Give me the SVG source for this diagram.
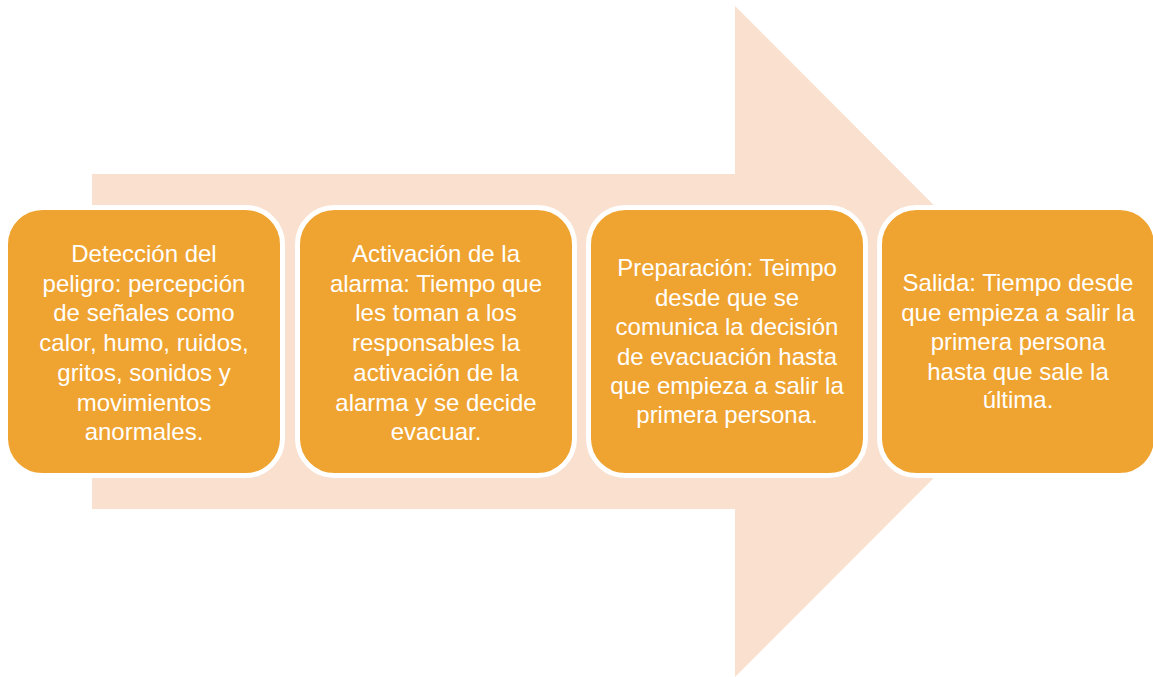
<svg xmlns="http://www.w3.org/2000/svg" width="1153" height="677" viewBox="0 0 1153 677">
<style>
.box{fill:#EFA431;stroke:#FFFFFF;stroke-width:5}
.t{font-family:"Liberation Sans",Arial,sans-serif;font-size:24px;fill:#FFFFFF;text-anchor:middle}
</style>
<rect width="1153" height="677" fill="#FFFFFF"/>
<g id="arrow">
<polygon points="92,174 735,174 735,6 1070,341.5 735,677 735,509 92,509" fill="#F9E0CF"/>
</g>
<g id="node1">
<rect class="box" x="5.5" y="207.5" width="277" height="268" rx="37"/>
<text class="t" x="144"><tspan x="144" y="262">Detección del</tspan><tspan x="144" y="292">peligro: percepción</tspan><tspan x="144" y="321">de señales como</tspan><tspan x="144" y="351">calor, humo, ruidos,</tspan><tspan x="144" y="381">gritos, sonidos y</tspan><tspan x="144" y="411">movimientos</tspan><tspan x="144" y="440">anormales.</tspan></text>
</g>
<g id="node2">
<rect class="box" x="297.5" y="207.5" width="277" height="268" rx="37"/>
<text class="t" x="436"><tspan x="436" y="262">Activación de la</tspan><tspan x="436" y="292">alarma: Tiempo que</tspan><tspan x="436" y="321">les toman a los</tspan><tspan x="436" y="351">responsables la</tspan><tspan x="436" y="381">activación de la</tspan><tspan x="436" y="411">alarma y se decide</tspan><tspan x="436" y="440">evacuar.</tspan></text>
</g>
<g id="node3">
<rect class="box" x="588.5" y="207.5" width="277" height="268" rx="37"/>
<text class="t" x="727"><tspan x="727" y="276">Preparación: Teimpo</tspan><tspan x="727" y="305.5">desde que se</tspan><tspan x="727" y="335">comunica la decisión</tspan><tspan x="727" y="364.5">de evacuación hasta</tspan><tspan x="727" y="394">que empieza a salir la</tspan><tspan x="727" y="423">primera persona.</tspan></text>
</g>
<g id="node4">
<rect class="box" x="879.5" y="207.5" width="277" height="268" rx="37"/>
<text class="t" x="1018"><tspan x="1018" y="291">Salida: Tiempo desde</tspan><tspan x="1018" y="320.5">que empieza a salir la</tspan><tspan x="1018" y="350">primera persona</tspan><tspan x="1018" y="379.5">hasta que sale la</tspan><tspan x="1018" y="408">última.</tspan></text>
</g>
<g id="connectors"></g>
</svg>
